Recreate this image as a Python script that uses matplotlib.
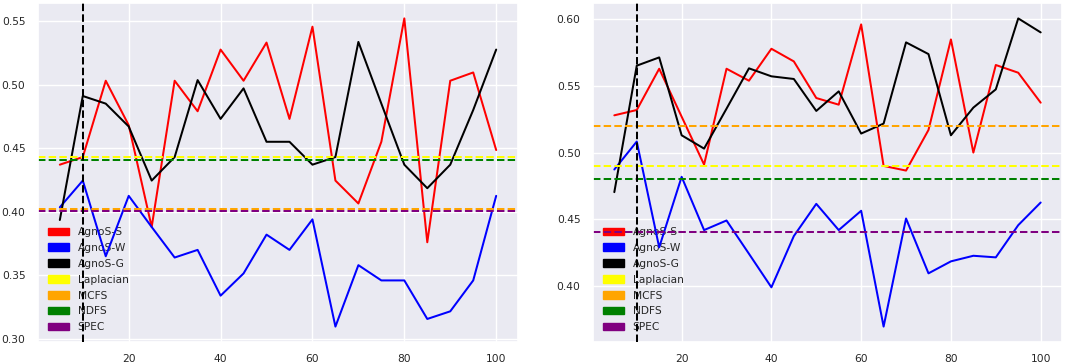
import matplotlib
matplotlib.use("Agg")
import matplotlib.pyplot as plt
import matplotlib.patches as mpatches
import seaborn as sns

sns.set_theme(style="darkgrid")
plt.rcParams['font.family'] = ['DejaVu Sans']

x_vals = [5, 10, 15, 20, 25, 30, 35, 40, 45, 50, 55, 60, 65, 70, 75, 80, 85, 90, 95, 100]

# Left panel
left_S = [0.437, 0.443, 0.503, 0.468, 0.388, 0.503, 0.479, 0.5275, 0.503, 0.533, 0.473, 0.5455,
          0.4245, 0.4065, 0.455, 0.552, 0.376, 0.503, 0.5095, 0.4485]
left_W = [0.4035, 0.4245, 0.365, 0.4125, 0.388, 0.364, 0.370, 0.334, 0.3515, 0.382, 0.370, 0.394,
          0.3097, 0.358, 0.346, 0.346, 0.3157, 0.3217, 0.346, 0.4125]
left_G = [0.3935, 0.491, 0.485, 0.467, 0.4245, 0.443, 0.5035, 0.473, 0.497, 0.455, 0.455, 0.437,
          0.443, 0.5335, 0.485, 0.437, 0.4185, 0.437, 0.48, 0.5275]
left_base = {"Laplacian": 0.443, "MCFS": 0.4025, "NDFS": 0.4405, "SPEC": 0.4005}

# Right panel
right_S = [0.528, 0.532, 0.563, 0.527, 0.491, 0.563, 0.554, 0.578, 0.5685, 0.541, 0.536, 0.5963,
           0.490, 0.4865, 0.517, 0.585, 0.500, 0.5658, 0.560, 0.5375]
right_W = [0.4873, 0.5083, 0.4288, 0.4818, 0.4418, 0.449, 0.424, 0.3988, 0.4373, 0.4615, 0.4418, 0.4563,
           0.3693, 0.4505, 0.4093, 0.4183, 0.4225, 0.4213, 0.4455, 0.4625]
right_G = [0.4703, 0.5653, 0.5715, 0.513, 0.503, 0.533, 0.5633, 0.5573, 0.5553, 0.5313, 0.546, 0.5143,
           0.5218, 0.5828, 0.574, 0.513, 0.5338, 0.5475, 0.6008, 0.5903]
right_base = {"Laplacian": 0.49, "MCFS": 0.52, "NDFS": 0.48, "SPEC": 0.44}

series_names = ["AgnoS-S", "AgnoS-W", "AgnoS-G"]
series_colors = ["red", "blue", "black"]
base_names = ["Laplacian", "MCFS", "NDFS", "SPEC"]
base_colors = ["yellow", "orange", "green", "purple"]
vline_x = 10
xticks = [20, 40, 60, 80, 100]

fig = plt.figure(figsize=(10.82, 3.64), dpi=100)
ax1 = fig.add_axes([38/1082, 22/364, 480/1082, 339/364])
ax2 = fig.add_axes([593/1082, 22/364, 469/1082, 339/364])

lw = 1.45
fs = 7.7

def draw(ax, S, W, G, base, yticks):
    for vals, name, c in zip([S, W, G], series_names, series_colors):
        ax.plot(x_vals, vals, color=c, lw=lw, label=name)
    for name, c in zip(base_names, base_colors):
        ax.axhline(base[name], color=c, lw=lw, ls="--")
    ax.axvline(vline_x, color="black", lw=lw, ls="--", zorder=10)
    ax.set_xticks(xticks)
    ax.set_yticks(yticks)
    ax.set_yticklabels([f"{v:.2f}" for v in yticks])
    ax.tick_params(labelsize=fs, pad=3)
    handles = [mpatches.Patch(color=c, label=n) for n, c in zip(series_names + base_names, series_colors + base_colors)]
    leg = ax.legend(handles=handles, loc="lower left", fontsize=fs, frameon=False,
                    handlelength=2.0, handleheight=0.7, labelspacing=0.55)
    leg.set_zorder(1)

draw(ax1, left_S, left_W, left_G, left_base, [0.30, 0.35, 0.40, 0.45, 0.50, 0.55])
draw(ax2, right_S, right_W, right_G, right_base, [0.40, 0.45, 0.50, 0.55, 0.60])

fig.savefig("out.png", dpi=100)
